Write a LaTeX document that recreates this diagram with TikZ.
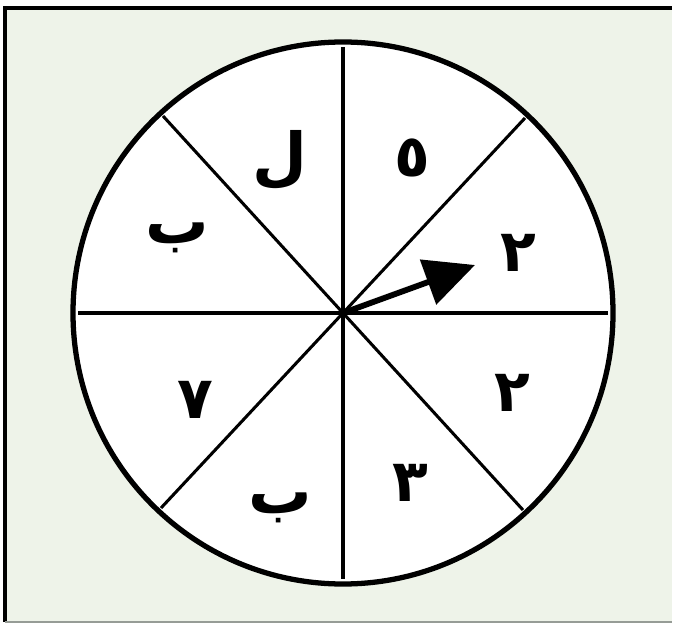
\documentclass[tikz,border=0pt]{standalone}
\usepackage{fontspec}
\newfontfamily\arabicfont[Script=Arabic]{DejaVu Sans}
\TeXXeTstate=1
\usetikzlibrary{arrows.meta}
\definecolor{spinbg}{RGB}{238,243,233}
\definecolor{spinedge}{RGB}{150,156,150}

\begin{document}
\begin{tikzpicture}[x=0.3mm, y=-0.3mm,
    sector/.style={font=\arabicfont\bfseries\fontsize{50}{56}\selectfont, inner sep=0pt},
    letter/.style={sector, font=\arabicfont\bfseries\fontsize{54}{60}\selectfont},
    spoke/.style={line width=2.6pt}
]
\useasboundingbox (0,0) rectangle (675,625);
\fill[spinbg] (5,8) rectangle (672,622);
\draw[line width=3.5pt] (5,622) -- (5,8) -- (672,8);
\draw[spinedge, line width=1.5pt] (5,622) -- (672,622);

% wheel
\coordinate (c) at (343,313);
\draw[fill=white, line width=4.5pt] (c) ellipse [x radius=270, y radius=271];

\coordinate (n) at (343,47);
\coordinate (s) at (343,579);
\coordinate (w) at (78,313);
\coordinate (e) at (608,313);
\coordinate (nw) at (163,116);
\coordinate (se) at (523,510);
\coordinate (ne) at (525,118);
\coordinate (sw) at (161,508);

\draw[spoke] (n) -- (s);
\draw[spoke] (w) -- (e);
\draw[spoke] (nw) -- (se);
\draw[spoke] (ne) -- (sw);

% pointer
\coordinate (tip) at (475,265);
\draw[line width=5pt, -{Triangle[length=15mm, width=14mm]}] (c) -- (tip);

% labels
\node[letter] (lam) at (280,160) {\beginR ل\endR};
\node[sector] (five) at (412,158) {\beginR ٥\endR};
\node[letter] (beha) at (177,238) {\beginR ب\endR};
\node[sector] (twoa) at (518,253) {\beginR ٢\endR};
\node[sector] (twob) at (512,393) {\beginR ٢\endR};
\node[sector] (seven) at (195,400) {\beginR ٧\endR};
\node[letter] (behb) at (280,508) {\beginR ب\endR};
\node[sector] (three) at (410,483) {\beginR ٣\endR};
\end{tikzpicture}
\end{document}
